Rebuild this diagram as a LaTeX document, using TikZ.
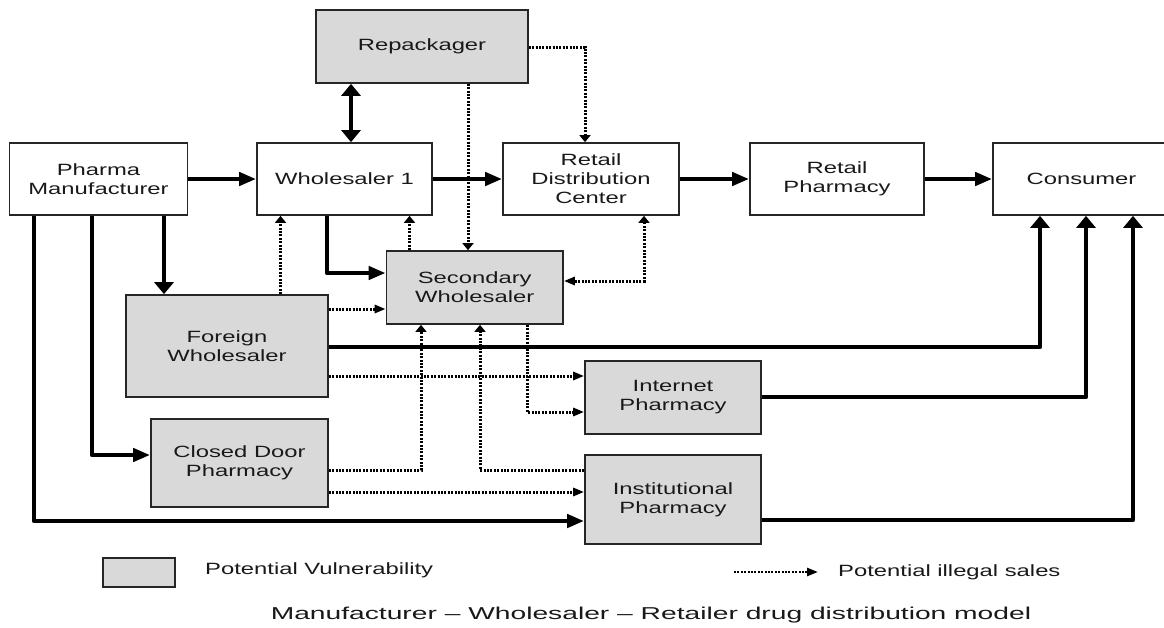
\documentclass[tikz,border=0pt]{standalone}
\usepackage{fontspec}
\setmainfont{Liberation Sans}[FakeStretch=1.46]
\newfontfamily\capfont{Liberation Sans}[FakeStretch=1.64]
\usetikzlibrary{arrows.meta,calc}

\begin{document}
\begin{tikzpicture}[x=1pt,y=-1pt,
  box/.style={draw=black!85, line width=1.7pt, fill=white, text=black!90,
    align=center, font=\fontsize{16.3}{19}\selectfont, inner sep=0pt},
  vuln/.style={box, fill=black!15},
  heavy/.style={line width=4.5pt, draw=black, line join=round},
  heavyh/.style={heavy, -{Triangle[length=17pt,width=13pt]}},
  heavyv/.style={heavy, -{Triangle[length=12pt,width=19pt]}},
  dots/.style={line width=3pt, draw=black, dash pattern=on 2pt off 1.4pt},
  dotsh/.style={dots, -{Triangle[length=11pt,width=8pt]}},
  dotsv/.style={dots, -{Triangle[length=7pt,width=11pt]}},
  legendtext/.style={text=black!90, font=\fontsize{16.3}{19}\selectfont, inner sep=0pt}
]
\useasboundingbox (0,0) rectangle (1164,627);
\clip (0,0) rectangle (1164,627);
\fill[white] (0,0) rectangle (1164,627);

% supply-chain stages
\node[vuln, minimum width=212pt, minimum height=73pt] (rep)  at (422,46.5) {Repackager};
\node[box,  minimum width=178pt, minimum height=72pt] (pm)   at (98.5,179) {Pharma\\Manufacturer};
\node[box,  minimum width=175pt, minimum height=72pt] (w1)   at (344.5,179) {Wholesaler 1};
\node[box,  minimum width=176pt, minimum height=72pt] (rdc)  at (591,179) {Retail\\Distribution\\Center};
\node[box,  minimum width=174pt, minimum height=72pt] (rp)   at (837,179) {Retail\\Pharmacy};
\node[box,  minimum width=177pt, minimum height=72pt] (con)  at (1081.5,179) {Consumer};
\node[vuln, minimum width=176.5pt, minimum height=73pt] (sw) at (474.75,287.5) {Secondary\\Wholesaler};
\node[vuln, minimum width=202pt, minimum height=102pt] (fw)  at (227,346) {Foreign\\Wholesaler};
\node[vuln, minimum width=177pt, minimum height=88pt] (cd)   at (239.5,463) {Closed Door\\Pharmacy};
\node[vuln, minimum width=176pt, minimum height=73pt] (ip)   at (673,397.5) {Internet\\Pharmacy};
\node[vuln, minimum width=176pt, minimum height=89pt] (inst) at (673,499.5) {Institutional\\Pharmacy};

% routing points
\coordinate (xrw) at (351,100);
\coordinate (k6)  at (585,47);
\coordinate (x7)  at (468,230);
\coordinate (k8)  at (327,273);
\coordinate (x9)  at (409.5,230);
\coordinate (x10) at (280.5,250);
\coordinate (x11) at (164,250);
\coordinate (y12) at (350,309);
\coordinate (k13) at (644,281);
\coordinate (k14) at (1040,347);
\coordinate (k15) at (1086,397);
\coordinate (k16) at (1133,520);
\coordinate (y17) at (450,376);
\coordinate (k18) at (527,412);
\coordinate (k19) at (421,470);
\coordinate (k20) at (480,470);
\coordinate (y21) at (450,492);
\coordinate (k22) at (92,455);
\coordinate (k23) at (34,521);

% main distribution flow
\draw[heavyh] (pm.east) -- (w1.west);
\draw[heavyh] (w1.east) -- (rdc.west);
\draw[heavyh] (rdc.east) -- (rp.west);
\draw[heavyh] (rp.east) -- (con.west);
\draw[heavy, {Triangle[length=12pt,width=19pt]}-{Triangle[length=12pt,width=19pt]}]
  (rep.south -| xrw) -- (w1.north -| xrw);
\draw[heavyh] (w1.south -| k8) -- (k8) -- (sw.west |- k8);
\draw[heavyv] (pm.south -| x11) -- (fw.north -| x11);
\draw[heavyh] (pm.south -| k22) -- (k22) -- (cd.west |- k22);
\draw[heavyh] (pm.south -| k23) -- (k23) -- (inst.west |- k23);
\draw[heavyv] (fw.east |- k14) -- (k14) -- (con.south -| k14);
\draw[heavyv] (ip.east |- k15) -- (k15) -- (con.south -| k15);
\draw[heavyv] (inst.east |- k16) -- (k16) -- (con.south -| k16);

% potential illegal sales
\draw[dotsv] (rep.east |- k6) -- (k6) -- (rdc.north -| k6);
\draw[dotsv] (rep.south -| x7) -- (sw.north -| x7);
\draw[dotsv] (sw.north -| x9) -- (w1.south -| x9);
\draw[dotsv] (fw.north -| x10) -- (w1.south -| x10);
\draw[dotsh] (fw.east |- y12) -- (sw.west |- y12);
\draw[dots, {Triangle[length=7pt,width=11pt]}-{Triangle[length=11pt,width=8pt]}]
  (rdc.south -| k13) -- (k13) -- (sw.east |- k13);
\draw[dotsh] (fw.east |- y17) -- (ip.west |- y17);
\draw[dotsh] (sw.south -| k18) -- (k18) -- (ip.west |- k18);
\draw[dotsv] (cd.east |- k19) -- (k19) -- (sw.south -| k19);
\draw[dotsv] (inst.west |- k20) -- (k20) -- (sw.south -| k20);
\draw[dotsh] (cd.east |- y21) -- (inst.west |- y21);

% legend
\node[vuln, minimum width=72pt, minimum height=29pt] (lgbox) at (139,572.5) {};
\node[legendtext, anchor=west] (lgvuln) at (205,570) {Potential Vulnerability};
\coordinate (lga) at (734,572);
\coordinate (lgb) at (818,572);
\draw[dotsh, line width=2.4pt] (lga) -- (lgb);
\node[legendtext, anchor=west] (lgill) at (838,572) {Potential illegal sales};

\node[text=black!90, inner sep=0pt, font=\capfont\fontsize{17.2}{20}\selectfont] (caption) at (651,615)
  {Manufacturer – Wholesaler – Retailer drug distribution model};
\end{tikzpicture}
\end{document}
